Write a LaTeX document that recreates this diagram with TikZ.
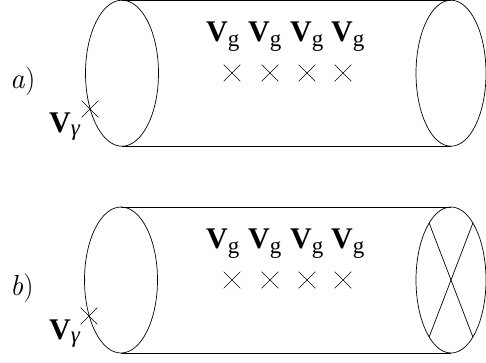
\documentclass[tikz,border=0pt]{standalone}
\usepackage{fontspec}
\setmainfont{Liberation Serif}
\newfontfamily\lmfont{Latin Modern Roman}
\usetikzlibrary{shapes.geometric, shapes.misc}
\tikzset{
  rim/.style={ellipse, draw, line width=0.7pt, inner sep=0pt, outer sep=0pt, minimum width=70pt, minimum height=146pt},
  tube/.style={line width=0.7pt},
  xmark/.style={cross out, draw, line width=0.6pt, minimum size=16pt, inner sep=0pt},
  lbl/.style={anchor=base west, inner sep=0pt, font=\fontsize{29}{31}\selectfont},
}
\newcommand{\Vsub}[2][-5pt]{{\fontsize{30}{32}\selectfont\bfseries V}\raisebox{#1}{\fontsize{23}{25}\selectfont #2}}
\newcommand{\panel}[1]{{\lmfont\textit{#1})}}

\begin{document}
\begin{tikzpicture}[x=1pt, y=-1pt]
        \useasboundingbox (0,0) rectangle (486,362);

        % Panel a
        \node[rim, minimum width=73pt] (La) at (122,73.2) {};
        \node[rim] (Ra) at (451,73.2) {};
        \draw[tube] (La.north) -- (Ra.north);
        \draw[tube] (La.south) -- (Ra.south);
        \node[lbl] (taga) at (10,88) {\panel{a}};
        \node[xmark] (xga) at (90,109) {};
        \node[lbl] (Vgama) at (49,132) {\Vsub[-3pt]{\itshape γ}};
        \foreach \i/\v/\c in {1/206/232, 2/248/270, 3/290/307, 4/331/343} {
            \node[lbl] (Vga\i) at (\v,41) {\Vsub{g}};
            \node[xmark] (xa\i) at (\c,73) {};
        }

        % Panel b
        \node[rim, minimum width=73pt] (Lb) at (121,280) {};
        \node[rim] (Rb) at (451,280) {};
        \draw[tube] (Lb.north) -- (Rb.north);
        \draw[tube] (Lb.south) -- (Rb.south);
        \draw[tube] (Rb.69) -- (Rb.249);
        \draw[tube] (Rb.111) -- (Rb.291);
        \node[lbl] (tagb) at (10,295) {\panel{b}};
        \node[xmark] (xgb) at (89,316) {};
        \node[lbl] (Vgamb) at (49,339) {\Vsub[-3pt]{\itshape γ}};
        \foreach \i/\v/\c in {1/206/232, 2/248/270, 3/290/307, 4/331/343} {
            \node[lbl] (Vgb\i) at (\v,248) {\Vsub{g}};
            \node[xmark] (xb\i) at (\c,280) {};
        }
\end{tikzpicture}
\end{document}
